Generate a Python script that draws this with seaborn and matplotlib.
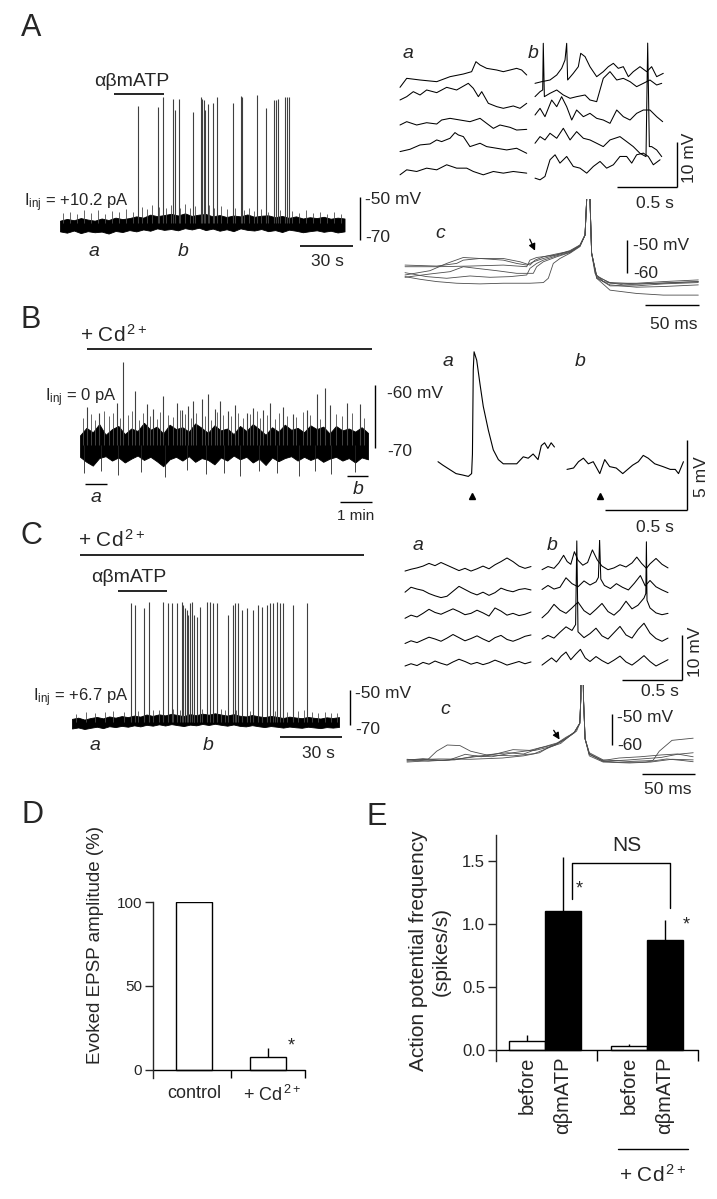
import numpy as np
import pandas as pd
import matplotlib
matplotlib.use("Agg")
import matplotlib.pyplot as plt
import seaborn as sns

sns.set_theme(style="ticks", context="paper")
plt.rcParams['font.family'] = ['Liberation Sans', 'DejaVu Sans']
plt.rcParams['mathtext.fontset'] = 'custom'
plt.rcParams['mathtext.rm'] = 'Liberation Sans'
plt.rcParams['mathtext.it'] = 'Liberation Sans:italic'

# ---------------- data ----------------
# A, long recording (s, mV): noise envelope, small noise peaks, spikes
A_env_t = [0, 4, 8, 12, 16, 20, 24, 28, 32, 36, 40, 44, 48, 52, 56, 60, 64, 68, 72, 76, 80,
           84, 88, 92, 96, 100, 104, 108, 112, 116, 120, 124, 128, 132, 136, 140, 144, 148,
           152, 156, 160, 164]
A_env_up = [-61.0, -60.2, -60.8, -59.8, -60.5, -61.0, -60.0, -60.7, -59.6, -60.3,
            -59.8, -59.0, -59.6, -58.2, -58.9, -58.4, -57.8, -58.6, -57.6, -58.8,
            -58.2, -57.9, -59.0, -58.4, -59.3, -58.6, -59.0, -58.1, -59.2, -58.7,
            -58.5, -59.4, -58.8, -59.7, -59.0, -60.0, -59.4, -59.8, -59.2, -60.1,
            -59.6, -60.0]
A_env_lo = [-66.0, -66.6, -65.6, -66.8, -65.9, -66.4, -66.1, -67.0, -65.8, -66.3,
            -65.4, -66.0, -65.1, -65.7, -64.6, -65.3, -64.9, -65.5, -64.5, -65.1,
            -64.3, -65.4, -64.7, -65.7, -65.0, -65.9, -64.6, -65.3, -65.6, -64.9,
            -65.9, -65.4, -66.3, -65.2, -65.7, -66.4, -65.9, -65.5, -66.2, -65.7,
            -66.5, -66.0]
A_nz_t = [2, 6, 10, 14, 18, 22, 26, 30, 34, 38, 42, 47, 50, 53, 57, 61, 64, 69, 72, 75,
          78, 86, 89, 93, 96, 101, 106, 109, 112, 116, 120, 127, 134, 138, 142, 146, 150,
          154, 158, 162]
A_nz_v = [-57.5, -56.8, -58.0, -56.2, -57.4, -55.9, -57.8, -56.5, -57.0, -55.6,
          -56.9, -54.8, -55.5, -53.9, -54.6, -55.2, -53.5, -54.9, -53.2, -55.0,
          -54.1, -53.8, -55.3, -54.4, -55.8, -54.9, -56.1, -55.2, -56.4, -55.7,
          -56.8, -55.9, -56.6, -57.3, -56.2, -57.6, -56.9, -57.8, -57.1, -58.0]
A_spk_t = [45.0, 56.4, 59.3, 65.1, 66.2, 68.5, 76.6, 81.2, 81.8, 82.9, 83.5, 85.2, 88.1,
           90.4, 99.6, 104.3, 104.8, 113.5, 118.7, 123.3, 124.5, 125.6, 129.6, 130.8, 131.9]
A_spk_v = [-7.7, -8.1, -3.5, -4.4, -9.5, -4.4, -10.5, -3.5, -4.4, -4.9, -9.5, -6.7, -6.3,
           -3.5, -6.3, -3.0, -3.5, -2.6, -8.6, -4.9, -4.9, -4.4, -3.5, -3.5, -3.5]
A_atp = [31, 60]

# A, sweeps a and b (s, mV relative to each sweep)
A_a = [
    ([0, .056, .167, .306, .417, .528, .597, .633, .667, .722, .806, .861, .917, .972, 1.014, 1.056],
     [-1.63, .37, 0, -.37, .74, 1.33, 1.85, 4.07, 3.33, 2.59, 2.22, 1.85, 2.22, 2.59, 2.22, 1.11]),
    ([0, .056, .111, .167, .222, .306, .389, .472, .569, .611, .653, .681, .736, .806, .861, .944, 1.0, 1.056],
     [0, .74, 1.85, 1.11, 2.22, 1.63, 2.81, 2.22, 3.7, 2.59, .74, 1.85, -.74, -1.48, -1.85, -1.33, -1.85, -.74]),
    ([0, .056, .139, .222, .306, .347, .417, .5, .583, .667, .722, .778, .833, .917, .972, 1.056],
     [-.44, .3, -.44, .07, -.22, .67, 1.04, .67, .3, 1.04, -.07, -1.19, -.44, -.96, -1.56, -1.41]),
    ([0, .083, .167, .25, .306, .347, .417, .458, .486, .528, .583, .667, .722, .806, .889, .972, 1.056],
     [-.81, -.3, .67, .89, 1.78, 1.41, 2.15, 3.41, 2.89, 2.52, .3, 1.04, .3, -.07, -.44, -.07, -1.19]),
    ([0, .056, .139, .222, .306, .389, .472, .556, .611, .694, .778, .861, .944, 1.056],
     [-.67, .44, .07, .81, .44, 1.56, .81, .81, .07, -.67, .07, -.3, .07, -.3]),
]
A_b = [
    ([0, .056, .125, .181, .222, .25, .264, .272, .319, .361, .381, .417, .458, .514, .569, .611, .653,
      .694, .736, .778, .819, .875, .931, .972, 1.014, 1.069],
     [-.74, -.37, 0, 1.11, 2.59, 4.44, 8.15, 0, 1.48, 2.96, 5.93, 5.19, 2.96, .74, 1.85, 2.96, 3.7,
      2.59, 2.96, .74, 1.85, 2.96, 1.85, 2.96, .74, 1.48]),
    ([0, .042, .064, .069, .078, .125, .181, .236, .292, .347, .417, .458, .514, .569, .625, .681, .736,
      .792, .847, .903, .958, 1.014, 1.056],
     [.74, 1.85, 2.22, 12.6, .74, 1.48, 2.22, 1.11, .37, .74, 1.11, 0, -.37, 4.81, 6.3, 4.44, 4.81,
      4.07, 2.96, 3.7, 4.44, 3.33, 3.7]),
    ([0, .042, .083, .139, .181, .222, .264, .306, .347, .403, .458, .514, .569, .625, .681, .736, .792,
      .847, .903, .958, 1.014, 1.064],
     [1.78, 3.26, 1.41, 5.11, 3.63, 5.85, 3.63, .67, 2.89, 1.41, 2.15, 1.04, .67, -.07, 2.89, 1.41, .67,
      2.15, 2.89, 2.89, 1.41, .3]),
    ([0, .042, .083, .125, .181, .236, .292, .347, .403, .458, .514, .569, .625, .708, .764, .819, .875,
      .925, .939, .953, .972, 1.014, 1.056],
     [1.04, 2.52, 1.78, 3.26, 2.15, 4.37, 1.78, 3.63, 2.15, 1.78, 1.04, .3, 1.78, 2.52, 1.41, .3, -1.19,
      -1.93, 23.3, .3, .3, -.44, -1.93]),
    ([0, .042, .083, .125, .167, .208, .264, .319, .375, .431, .486, .542, .597, .653, .708, .764, .806,
      .847, .903, .944, .986, 1.042],
     [-1.41, -1.78, -1.04, 2.67, 3.78, 1.93, 3.41, 1.19, .81, -.3, 1.19, 2.3, .81, 1.56, 3.41, 3.41, 1.93,
      3.78, 4.15, 3.41, 1.56, 2.67]),
]
# A, c: superimposed spikes (ms, mV)
A_c = [
    ([0, 29.3, 60.2, 91, 112.7, 115.7, 121.9, 140.4, 152.8, 162, 166.7, 168.2, 169.5, 171.3, 172.8,
      175.9, 183.6, 202.2, 220.7, 245.4, 271.6],
     [-58.1, -58.1, -57.9, -57.6, -58.1, -56.1, -55.3, -54.5, -53.5, -51.8, -48.5, -37.9, -10, -37.9,
      -54, -60.1, -62.6, -63.6, -63.3, -62.9, -62.6]),
    ([0, 23.1, 38.6, 54, 69.4, 91, 103.4, 112.7, 118.8, 128.1, 140.4, 152.8, 162, 166.7, 168.2, 169.5,
      171.3, 172.8, 177.5, 189.8, 214.5, 239.2, 271.6],
     [-60.6, -59.3, -57.1, -55.3, -55.6, -56.1, -57.1, -57.6, -56.6, -55.6, -54.5, -53.2, -51.5, -48.5,
      -37.9, -10, -37.9, -54, -61.6, -63.6, -64.3, -64.1, -63.6]),
    ([0, 13.9, 29.3, 47.8, 69.4, 91, 115.7, 128.1, 132.7, 137.3, 143.5, 152.8, 162, 166.7, 168.2, 169.5,
      171.3, 172.8, 177.5, 189.8, 214.5, 239.2, 271.6],
     [-61.1, -61.9, -62.6, -63.1, -63.3, -63.1, -63.1, -62.9, -61.6, -57.1, -55.6, -54, -52, -48.5,
      -37.9, -10, -37.9, -54, -61.6, -65.2, -66.2, -66.7, -66.7]),
    ([0, 20.1, 38.6, 60.2, 78.7, 97.2, 112.7, 115.7, 121.9, 128.1, 140.4, 152.8, 162, 166.7, 168.2,
      169.5, 171.3, 172.8, 177.5, 189.8, 214.5, 239.2, 271.6],
     [-59.9, -61.1, -61.6, -60.9, -61.3, -61.1, -60.6, -58.6, -57.1, -56.1, -54.8, -53.7, -51.7, -48.5,
      -37.9, -10, -37.9, -54, -61.1, -62.9, -63.3, -63.1, -62.6]),
    ([0, 23.1, 41.7, 54, 66.4, 84.9, 103.4, 118.8, 121.9, 128.1, 140.4, 152.8, 162, 166.7, 168.2, 169.5,
      171.3, 172.8, 177.5, 189.8, 214.5, 239.2, 271.6],
     [-61.3, -60.3, -59.6, -58.1, -58.6, -59.3, -60.1, -60.1, -58.1, -56.6, -55.1, -53.8, -51.8, -48.5,
      -37.9, -10, -37.9, -54, -61.3, -63.9, -63.9, -63.3, -62.9]),
    ([0, 29.3, 47.8, 54, 69.4, 91, 106.5, 115.7, 120.4, 128.1, 140.4, 152.8, 162, 166.7, 168.2, 169.5,
      171.3, 172.8, 177.5, 189.8, 214.5, 239.2, 271.6],
     [-57.6, -57.9, -57.1, -56.1, -55.6, -55.6, -56.6, -57.6, -56.1, -55.1, -54.2, -53.4, -51.6, -48.5,
      -37.9, -10, -37.9, -54, -60.8, -63.1, -63.1, -62.6, -62.1]),
]

# B, long recording in Cd2+ (s, mV)
B_env_t = [0, 12, 24, 36, 48, 60, 72, 84, 96, 108, 120, 132, 144, 156, 168, 180, 192, 204, 216,
           228, 240, 252, 264, 276, 288, 300, 312, 324, 336, 348, 360, 372, 384, 396, 408, 420,
           432, 444, 456, 468, 480, 492, 504, 516, 528, 540]
B_env_up = [-68.0, -66.8, -67.5, -66.2, -67.9, -67.0, -66.5, -67.8, -66.9, -67.3,
            -66.0, -67.1, -66.6, -67.7, -66.3, -67.0, -66.7, -67.4, -66.1, -66.8,
            -67.6, -66.4, -67.2, -66.9, -67.8, -66.5, -67.3, -66.2, -67.0, -67.9,
            -66.7, -67.4, -66.3, -67.1, -66.8, -67.5, -66.4, -67.0, -66.6, -67.7,
            -66.5, -67.2, -66.9, -67.4, -66.7, -67.6]
B_env_lo = [-71.4, -72.2, -72.8, -71.6, -71.3, -72.0, -71.5, -72.3, -71.7, -71.2,
            -71.9, -71.4, -72.1, -72.9, -71.8, -71.4, -72.0, -71.3, -72.2, -71.6,
            -71.9, -72.6, -71.5, -72.0, -71.2, -71.8, -71.4, -72.3, -71.7, -72.7,
            -71.5, -72.1, -71.6, -71.3, -72.0, -71.4, -71.9, -71.5, -72.2, -71.7,
            -71.4, -72.0, -71.6, -72.3, -71.5, -71.8]
B_nz_t = [5, 20, 28, 45, 55, 62, 75, 90, 97, 110, 118, 131, 145, 150, 165, 175, 187, 197, 208,
          218, 234, 246, 257, 268, 284, 297, 305, 318, 331, 338, 350, 366, 374, 388, 405, 418,
          432, 450, 480, 492, 510, 532]
B_nz_v = [-65.2, -64.6, -65.5, -64.1, -65.0, -64.4, -65.3, -64.8, -64.2, -65.6,
          -64.5, -64.9, -65.4, -64.3, -64.7, -65.1, -64.0, -64.6, -65.2, -64.4,
          -64.9, -65.5, -64.3, -64.8, -65.0, -64.4, -65.3, -64.6, -64.1, -65.2,
          -64.7, -65.4, -64.5, -64.9, -65.1, -64.3, -64.8, -65.4, -64.6, -65.0,
          -64.4, -65.2]
B_dn_t = [8, 40, 72, 115, 160, 200, 236, 270, 300, 335, 370, 410, 440, 470, 515]
B_dn_v = [-74.0, -73.6, -74.3, -73.8, -74.6, -73.5, -74.1, -73.9, -74.4, -73.7, -74.0, -74.5,
          -73.6, -74.2, -73.8]
B_spk_t = [13, 36, 69, 81, 103, 126, 137, 156, 182, 191, 203, 212, 229, 240, 253, 262, 278, 291,
           313, 324, 343, 356, 381, 399, 426, 444, 459, 469, 501, 525]
B_spk_v = [-63.5, -64.5, -62.8, -56.3, -61.0, -63.0, -63.8, -61.7, -62.9, -64.0,
           -63.3, -62.5, -62.2, -61.5, -63.8, -62.6, -64.2, -63.1, -64.4, -63.6,
           -64.0, -62.8, -63.5, -64.6, -63.9, -61.5, -60.5, -63.2, -62.8, -63.0]
B_cd = [13, 547]
B_win_a = [9, 51]
B_win_b = [501, 540]
# B, evoked EPSP a and b (s, mV)
B_a_t = [0, .03, .07, .11, .15, .185, .205, .21, .215, .22, .236, .256, .276, .307, .337, .368,
         .398, .44, .48, .52, .55, .58, .61, .63, .65, .67, .69, .71]
B_a_v = [-71.55, -71.8, -72.1, -72.4, -72.5, -72.6, -72.4, -71.0, -65.0, -63.7, -64.3, -66.0,
         -67.6, -69.3, -70.7, -71.4, -71.7, -71.7, -71.7, -71.2, -71.3, -71.0, -71.4, -70.4,
         -70.2, -70.6, -70.2, -70.5]
B_b_t = [0, .04, .07, .10, .13, .16, .20, .23, .26, .30, .34, .37, .40, .435, .465, .495, .535,
         .585, .63, .66, .68, .71]
B_b_v = [-72.1, -72.0, -71.55, -71.3, -71.7, -71.55, -72.4, -71.4, -71.9, -72.0, -72.4, -72.1,
         -71.8, -71.55, -71.1, -71.3, -71.7, -71.9, -72.1, -72.1, -72.4, -71.55]
B_stim = [0.21, 0.20]

# C, long recording in Cd2+ with agonist (s, mV)
C_env_t = [0, 3, 6, 9, 12, 15, 18, 21, 24, 27, 30, 33, 36, 39, 42, 45, 48, 51, 54, 57, 60, 63,
           66, 69, 72, 75, 78, 81, 84, 87, 90, 93, 96, 99, 102, 105, 108, 111, 114, 117, 120,
           123, 126, 129]
C_env_up = [-66.5, -65.8, -66.9, -66.0, -65.4, -66.2, -65.1, -65.8, -64.9, -65.5,
            -64.6, -65.2, -64.0, -64.8, -63.9, -64.5, -63.6, -64.3, -64.9, -63.8,
            -64.4, -63.5, -64.1, -63.3, -64.0, -64.6, -63.8, -64.7, -65.1, -64.3,
            -65.0, -65.5, -64.8, -65.3, -66.0, -65.2, -65.7, -66.1, -65.4, -65.9,
            -66.3, -65.6, -66.0, -65.5]
C_env_lo = [-72.0, -71.4, -72.3, -71.6, -71.0, -71.8, -70.7, -71.2, -70.5, -71.0,
            -70.2, -70.8, -69.9, -70.4, -69.6, -70.3, -69.5, -70.1, -70.6, -69.8,
            -70.2, -69.4, -70.0, -69.3, -69.9, -70.4, -69.7, -70.5, -70.8, -70.1,
            -70.7, -71.2, -70.6, -71.0, -71.5, -70.9, -71.3, -71.6, -71.0, -71.4,
            -71.8, -71.2, -71.5, -71.1]
C_nz_t = [2, 7, 11, 16, 20, 25, 32, 39, 42, 49, 52, 59, 63, 68, 72, 74, 79, 86, 92, 98, 104,
          109, 112, 116, 119, 122, 125, 128]
C_nz_v = [-63.5, -62.8, -63.2, -62.4, -62.0, -62.6, -61.8, -61.2, -61.6, -60.8,
          -61.4, -60.6, -61.0, -61.5, -60.9, -61.3, -61.7, -62.0, -61.4, -62.2,
          -62.6, -62.1, -61.5, -62.8, -63.1, -62.4, -63.3, -62.9]
C_spk_t = [28.5, 30.4, 34.8, 37.2, 44.0, 46.4, 48.3, 50.7, 53.1, 53.6, 54.6, 55.6, 56.0, 57.0,
           58.0, 58.9, 60.4, 61.8, 65.2, 66.7, 68.1, 70.0, 75.4, 77.8, 78.7, 80.2, 82.1, 84.5,
           87.4, 89.9, 91.8, 94.2, 95.7, 97.1, 99.0, 100.5, 101.9, 106.8, 113.5]
C_spk_v = [-0.5, -1.4, -3.3, 0.5, 0.5, -0.5, -0.5, -0.1, 0.5, -1.4, -3.3, -4.3, -7.1, -0.5,
           0.5, -7.1, -8.1, -2.4, 0.5, 0.5, -0.5, -0.5, -7.1, -1.4, -0.5, -0.5, -4.3, -3.3,
           -4.3, -1.4, -2.4, -1.4, -0.5, -0.5, 0.5, -0.5, -0.5, -1.4, -0.5]
C_cd = [4, 141]
C_atp = [22, 46]
C_grid = [0, .05, .1, .15, .2, .25, .3, .35, .4, .45, .5, .55, .6, .65, .7, .75, .8, .85, .9,
          .95, 1.0, 1.05]
C_a = [
    [-.9, -.5, -.2, .2, .8, .3, 1.0, .4, -.2, -.8, -.3, -.9, -.4, .2, -.4, .5, 1.2, 2.0, 1.2, .2, -.3, .1],
    [-.3, .8, .4, .1, -.6, -1.1, -1.5, -1.2, -.1, 1.0, .3, -.4, -.9, -.3, -1.0, -.4, .6, .1, -.2, .3, .5, .2],
    [-.5, .2, -.2, .6, 1.5, .8, .4, 1.0, 1.6, 1.0, .3, .6, 1.3, .7, 0, 1.8, 1.1, .2, .6, .1, .4, .9],
    [-.8, -.2, -.6, 0, .6, .2, -.3, .4, 1.2, .5, -.2, .3, .9, .2, -.4, .5, 1.0, .1, -.3, .2, .8, 1.1],
    [-.4, .1, -.3, .4, 0, .7, .2, -.2, .5, 1.1, .6, 0, .4, -.1, .3, .9, .4, -.2, .2, .6, .1, .5],
]
C_b = [
    ([0, .05, .1, .14, .18, .21, .24, .27, .3, .34, .38, .42, .46, .5, .55, .6, .65, .7, .75, .79,
      .83, .87, .9, .95, 1.0, 1.05],
     [-.6, .1, -.3, .9, 2.6, 1.2, .6, 3.4, 1.5, .4, 1.0, 3.8, 1.6, .2, -.6, -.2, .5, 0, .9, 2.2,
      .8, -.3, .7, 1.9, .6, -.2]),
    ([0, .05, .1, .15, .2, .25, .3, .35, .4, .45, .47, .48, .49, .52, .57, .62, .67, .72, .77, .82,
      .86, .9, .95, 1.0, 1.05],
     [.3, 1.2, .4, .8, 2.9, 1.6, .9, 2.2, 1.3, 2.0, 3.0, 11.3, 2.6, 1.2, .5, 1.6, .8, .2, 1.7, 3.4,
      1.1, 2.3, .9, .2, -.4]),
    ([0, .05, .1, .15, .2, .25, .3, .35, .4, .45, .5, .55, .6, .65, .7, .75, .8, .85, .865, .87,
      .875, .9, .95, 1.0, 1.05],
     [-.4, .8, 2.6, 1.3, .6, 1.8, 3.1, 1.2, .3, 1.5, 2.8, 1.0, .2, 1.4, 3.3, 1.6, 2.4, 4.0, 5.0,
      16.5, 3.5, 1.8, .7, .3, .6]),
    ([0, .05, .1, .15, .2, .25, .28, .29, .3, .35, .4, .45, .5, .55, .6, .65, .7, .75, .8, .85,
      .9, .95, 1.0, 1.05],
     [.2, 1.0, .4, 1.7, 2.9, 2.1, 3.4, 22.0, 1.8, .5, 1.4, 2.6, .9, .2, 1.6, 3.0, 1.1, .4, 2.3,
      3.7, 1.5, .3, -.3, .4]),
    ([0, .04, .08, .12, .16, .2, .24, .28, .32, .36, .4, .45, .5, .55, .6, .65, .7, .75, .8, .85,
      .9, .95, 1.0, 1.05],
     [-.2, .6, 1.4, .5, 1.8, 2.7, 1.0, 2.2, 3.3, 1.4, .6, 1.7, .8, .1, .9, 1.8, .5, -.2, .8, 1.9,
      .6, -.4, .3, 1.0]),
]
C_c = [
    ([0, 30, 60, 90, 110, 125, 135, 145, 155, 160, 163, 164, 165, 166.5, 168, 172, 185, 210, 232,
      238, 250, 270],
     [-64.8, -64.5, -64.6, -64.2, -63.5, -62.5, -60.5, -59.0, -56.8, -55.5, -53, -45, -10, -45,
      -58, -62.5, -64.8, -65.3, -65, -62, -58.5, -57.8]),
    ([0, 20, 28, 38, 50, 60, 75, 100, 120, 140, 150, 158, 163, 164, 165, 166.5, 168, 172, 185,
      210, 240, 255, 270],
     [-65.2, -64.6, -62, -60, -60.2, -62, -63.2, -63.5, -62.8, -60, -58, -55.8, -53, -45, -10,
      -45, -58, -63, -65.3, -64.8, -64, -63, -62.5]),
    ([0, 25, 45, 65, 80, 100, 115, 130, 142, 150, 158, 163, 164, 165, 166.5, 168, 172, 185, 210,
      230, 250, 270],
     [-65.5, -65, -64.8, -63.5, -63.8, -62.5, -61.8, -60.5, -59.3, -57.5, -56, -53, -45, -10, -45,
      -58, -63.5, -65.5, -65.8, -65.5, -64.6, -64.8]),
    ([0, 20, 40, 55, 70, 85, 100, 120, 135, 145, 152, 158, 163, 164, 165, 166.5, 168, 172, 185,
      200, 220, 240, 255, 270],
     [-64.6, -65.2, -64.8, -63, -63.8, -62.8, -61.5, -61.8, -60.6, -59.5, -57.5, -55.8, -53, -45,
      -10, -45, -58, -63, -65, -64.2, -63.8, -63.2, -62.9, -63.8]),
    ([0, 15, 35, 60, 80, 95, 110, 125, 140, 150, 158, 163, 164, 165, 166.5, 168, 172, 185, 200,
      225, 245, 260, 270],
     [-64.9, -64.4, -65, -64, -63, -62.5, -62.9, -61, -59.8, -57.8, -55.9, -53, -45, -10, -45, -58,
      -62.8, -65.2, -65.6, -65.5, -64.5, -65, -65.4]),
]

# D, evoked EPSP amplitude (%)
D_groups = ['control', '+ Cd2+']
D_values = [100, 8]
D_err = [0, 5]

# E, action potential frequency (spikes/s)
E_groups = ['control', 'control', 'cd', 'cd']
E_drug = ['before', 'αβmATP', 'before', 'αβmATP']
E_values = [0.07, 1.10, 0.03, 0.87]
E_err = [0.05, 0.43, 0.02, 0.16]

# ---------------- layout helpers (pixel boxes) ----------------
W, H = 717, 1199
fig = plt.figure(figsize=(W / 100, H / 100), dpi=100)
LIMS = []


def trace_ax(box, x_ref, t_ref, px_t, y_ref, v_ref, px_v):
    l, t, r, b = box
    ax = fig.add_axes([l / W, 1 - b / H, (r - l) / W, (b - t) / H])
    ax.set_axis_off()
    LIMS.append((ax, (t_ref + (l - x_ref) / px_t, t_ref + (r - x_ref) / px_t),
                 (v_ref - (b - y_ref) / px_v, v_ref - (t - y_ref) / px_v)))
    return ax


def ftext(x, y, s, size=12.5, ha='left', va='center', **kw):
    fig.text(x / W, 1 - y / H, s, fontsize=size, ha=ha, va=va, **kw)


def line(ax, xs, ys, lw=1.0):
    ax.plot(xs, ys, color='black', lw=lw, clip_on=False, solid_capstyle='butt')


def sweep(ax, t, v, color='black', lw=0.75):
    sns.lineplot(x=t, y=v, ax=ax, color=color, linewidth=lw, sort=False, estimator=None)


def long_trace(ax, env_t, up, lo, spk_t, spk_v, base, nz=(), dn=()):
    for nt, nv in nz:
        ax.vlines(nt, base, nv, color='0.3', lw=0.6)
    for nt, nv in dn:
        ax.vlines(nt, base, nv, color='0.15', lw=0.6)
    ax.vlines(spk_t, base, spk_v, color='0.25', lw=0.8)
    ax.fill_between(env_t, lo, up, color='black', edgecolor='black', lw=0.6)


IT = dict(style='italic', size=14)
LET = dict(size=22)

# ---------------- panel A ----------------
ftext(31, 28, 'A', ha='center', **LET)
axA = trace_ax((55, 90, 365, 265), 60, 0, 288 / 166, 197, -50, 2.15)
long_trace(axA, A_env_t, A_env_up, A_env_lo, A_spk_t, A_spk_v, -62,
           nz=[(A_nz_t, A_nz_v)])
line(axA, A_atp, [-2.1, -2.1], lw=1.2)
ftext(132, 81, 'αβmATP', size=14, ha='center')
line(axA, [173, 173], [-50, -70])
line(axA, [138.3, 168.9], [-72.8, -72.8], lw=1.2)
ftext(365, 200, '-50 mV')
ftext(365, 237, '-70')
ftext(327, 261, '30 s', ha='center')
ftext(24, 203, r'I$_{\mathregular{inj}}$ = +10.2 pA', size=12)
ftext(94, 252, 'a', ha='center', **IT)
ftext(183, 252, 'b', ha='center', **IT)

A_rows = [0, -4.44, -9.56, -15.1, -20.4]
axAa = trace_ax((398, 30, 532, 195), 400, 0, 120, 80, 0, 4.5)
axAb = trace_ax((532, 30, 668, 195), 535, 0, 120, 80, 0, 4.5)
for (t, v), off in zip(A_a, A_rows):
    sweep(axAa, t, np.array(v) + off)
for (t, v), off in zip(A_b, A_rows):
    sweep(axAb, t, np.array(v) + off)
line(axAb, [1.183, 1.183], [-13.8, -23.8])
line(axAb, [0.683, 1.183], [-23.8, -23.8])
ftext(408, 53, 'a', ha='center', **IT)
ftext(533, 53, 'b', ha='center', **IT)
ftext(689, 158, '10 mV', ha='center', rotation=90)
ftext(655, 203, '0.5 s', ha='center')

axAc = trace_ax((400, 199, 705, 310), 405, 0, 1.08, 240, -50, 3.3)
for t, v in A_c:
    sweep(axAc, t, v, color='0.3', lw=0.6)
line(axAc, [205.6, 205.6], [-50, -60])
line(axAc, [222, 272], [-69.7, -69.7])
axAc.annotate('', xy=(121.5, -54.0), xytext=(114.5, -49.0),
              arrowprops=dict(arrowstyle='-|>', color='black', lw=0.9, mutation_scale=10),
              annotation_clip=False)
ftext(440, 233, 'c', ha='center', **IT)
ftext(633, 245, '-50 mV')
ftext(633, 273, '-60')
ftext(674, 324, '50 ms', ha='center')

# ---------------- panel B ----------------
ftext(31, 320, 'B', ha='center', **LET)
axB = trace_ax((75, 355, 372, 520), 80, 0, 288 / 540, 385, -60, 6.3)
long_trace(axB, B_env_t, B_env_up, B_env_lo, B_spk_t, B_spk_v, -69.5,
           nz=[(B_nz_t, B_nz_v)], dn=[(B_dn_t, B_dn_v)])
line(axB, B_cd, [-54.3, -54.3], lw=1.2)
ftext(80, 335, r'+ Cd$^{\,2+}$', size=15)
line(axB, B_win_a, [-75.7, -75.7])
line(axB, B_win_b, [-74.4, -74.4])
line(axB, [487.5, 547.5], [-78.6, -78.6])
line(axB, [553, 553], [-60, -70])
ftext(96, 498, 'a', ha='center', **IT)
ftext(358, 490, 'b', ha='center', **IT)
ftext(356, 516, '1 min', ha='center', size=11)
ftext(387, 393, '-60 mV')
ftext(387, 452, '-70')
ftext(45, 398, r'I$_{\mathregular{inj}}$ = 0 pA', size=12)

axBa = trace_ax((430, 340, 560, 530), 438, 0, 164, 440, -70, 14)
axBb = trace_ax((560, 340, 705, 530), 567, 0, 164, 440, -70, 14)
sweep(axBa, B_a_t, B_a_v, lw=0.8)
sweep(axBb, B_b_t, B_b_v, lw=0.8)
for ax, ts in zip([axBa, axBb], B_stim):
    ax.plot(ts, -74, marker='^', color='black', markersize=4.5, clip_on=False)
line(axBb, [0.732, 0.732], [-70, -75])
line(axBb, [0.232, 0.732], [-75, -75])
ftext(448, 362, 'a', ha='center', **IT)
ftext(580, 362, 'b', ha='center', **IT)
ftext(701, 477, '5 mV', ha='center', rotation=90)
ftext(655, 527, '0.5 s', ha='center')

# ---------------- panel C ----------------
ftext(31, 536, 'C', ha='center', **LET)
axC = trace_ax((68, 595, 360, 765), 72, 0, 2.07, 690, -50, 1.75)
long_trace(axC, C_env_t, C_env_up, C_env_lo, C_spk_t, C_spk_v, -68,
           nz=[(C_nz_t, C_nz_v)])
line(axC, C_cd, [27.1, 27.1], lw=1.2)
line(axC, C_atp, [6.6, 6.6], lw=1.2)
ftext(78, 540, r'+ Cd$^{\,2+}$', size=15)
ftext(129, 578, 'αβmATP', size=14, ha='center')
line(axC, [134.3, 134.3], [-50, -70])
line(axC, [100.5, 130.4], [-76.9, -76.9], lw=1.2)
ftext(355, 694, '-50 mV')
ftext(355, 729, '-70')
ftext(318, 754, '30 s', ha='center')
ftext(33, 698, r'I$_{\mathregular{inj}}$ = +6.7 pA', size=12)
ftext(95, 745, 'a', ha='center', **IT)
ftext(208, 745, 'b', ha='center', **IT)

C_rows = [0, -5.3, -10.9, -16.2, -21.6]
axCa = trace_ax((400, 540, 538, 685), 405, 0, 120, 567, 0, 4.5)
axCb = trace_ax((538, 540, 672, 685), 542, 0, 120, 567, 0, 4.5)
for v, off in zip(C_a, C_rows):
    sweep(axCa, C_grid, np.array(v) + off)
for (t, v), off in zip(C_b, C_rows):
    sweep(axCb, t, np.array(v) + off)
line(axCb, [1.167, 1.167], [-15.1, -25.1])
line(axCb, [0.667, 1.167], [-25.1, -25.1])
ftext(418, 545, 'a', ha='center', **IT)
ftext(552, 545, 'b', ha='center', **IT)
ftext(695, 652, '10 mV', ha='center', rotation=90)
ftext(660, 692, '0.5 s', ha='center')

axCc = trace_ax((400, 685, 705, 790), 407, 0, 1.06, 714, -50, 3.1)
for t, v in C_c:
    sweep(axCc, t, v, color='0.3', lw=0.6)
line(axCc, [193.4, 193.4], [-50, -60])
line(axCc, [221.7, 271.7], [-69.4, -69.4])
axCc.annotate('', xy=(145.3, -59.0), xytext=(137.0, -54.5),
              arrowprops=dict(arrowstyle='-|>', color='black', lw=0.9, mutation_scale=10),
              annotation_clip=False)
ftext(445, 710, 'c', ha='center', **IT)
ftext(617, 718, '-50 mV')
ftext(617, 745, '-60')
ftext(668, 790, '50 ms', ha='center')

# ---------------- panel D ----------------
ftext(32, 815, 'D', ha='center', **LET)
l, t, r, b = 153, 902, 305, 1078
axD = fig.add_axes([l / W, 1 - b / H, (r - l) / W, (b - t) / H])
sns.barplot(x=D_groups, y=D_values, color='white', saturation=1, edgecolor='black',
            linewidth=1, width=0.49, errorbar=None, ax=axD)
axD.vlines(1, D_values[1], D_values[1] + D_err[1], color='black', lw=1)
axD.set_xlim(-0.554, 1.5)
axD.set_ylim(-4.8, 100)
sns.despine(ax=axD, bottom=True)
axD.spines['left'].set_linewidth(1)
axD.plot([-0.554, 1.5], [0, 0], color='black', lw=1, clip_on=False)
axD.vlines([0.5, 1.5], -4.8, 0, color='black', lw=1, clip_on=False)
axD.set_xticks([])
axD.set_yticks([0, 50, 100])
axD.tick_params(axis='y', direction='out', length=6, width=1, labelsize=11, pad=2)
axD.set_xlabel('')
axD.set_ylabel('')
axD.text(0, -9, 'control', ha='center', va='top', fontsize=13)
axD.text(1.05, -9, r'+ Cd$^{\,2+}$', ha='center', va='top', fontsize=13)
axD.text(1.32, 14, '*', ha='center', va='center', fontsize=13)
ftext(95, 945, 'Evoked EPSP amplitude (%)', size=13.5, ha='center', rotation=90)

# ---------------- panel E ----------------
ftext(377, 817, 'E', ha='center', **LET)
l, t, r, b = 496, 835, 698, 1061
axE = fig.add_axes([l / W, 1 - b / H, (r - l) / W, (b - t) / H])
dfE = pd.DataFrame({'group': E_groups, 'drug': E_drug, 'freq': E_values})
sns.barplot(data=dfE, x='group', y='freq', hue='drug',
            palette={'before': 'white', 'αβmATP': 'black'}, saturation=1,
            edgecolor='black', linewidth=1, width=0.7, errorbar=None, legend=False, ax=axE)
bars = sorted(axE.patches, key=lambda p: p.get_x())
for p, val, err, lab in zip(bars, E_values, E_err, E_drug):
    cx = p.get_x() + p.get_width() / 2
    axE.vlines(cx, val, val + err, color='black', lw=1)
    axE.text(cx, -0.05, lab, rotation=90, ha='center', va='top', fontsize=14.5)
axE.set_xlim(-0.48, 1.5)
axE.set_ylim(-0.087, 1.706)
sns.despine(ax=axE, bottom=True)
axE.spines['left'].set_linewidth(1)
axE.plot([-0.48, 1.5], [0, 0], color='black', lw=1, clip_on=False)
axE.vlines([0.51, 1.5], -0.087, 0, color='black', lw=1, clip_on=False)
axE.set_xticks([])
axE.set_yticks([0, 0.5, 1.0, 1.5])
axE.set_yticklabels(['0.0', '0.5', '1.0', '1.5'])
axE.tick_params(axis='y', direction='out', length=6, width=1, labelsize=12, pad=2)
axE.set_xlabel('')
axE.set_ylabel('')
axE.plot([0.265, 0.265, 1.225, 1.225], [1.2, 1.48, 1.48, 1.13], color='black', lw=1)
axE.text(0.80, 1.62, 'NS', ha='center', va='center', fontsize=15)
axE.text(0.34, 1.28, '*', ha='center', va='center', fontsize=13)
axE.text(1.38, 0.99, '*', ha='center', va='center', fontsize=13)
axE.plot([0.716, 1.40], [-0.786, -0.786], color='black', lw=1, clip_on=False)
axE.text(1.06, -0.99, r'+ Cd$^{\,2+}$', ha='center', va='center', fontsize=15)
ftext(430, 951, 'Action potential frequency\n(spikes/s)', size=15, ha='center',
      rotation=90, multialignment='center')

for ax, xl, yl in LIMS:
    ax.set_xlim(xl)
    ax.set_ylim(yl)

fig.savefig('out.png', dpi=100)
